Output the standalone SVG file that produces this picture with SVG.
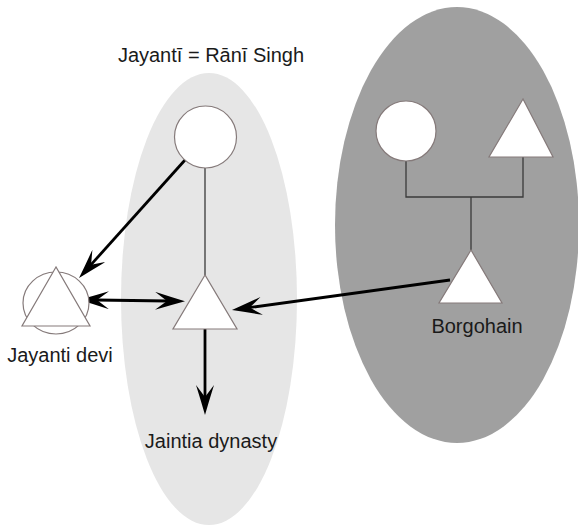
<svg xmlns="http://www.w3.org/2000/svg" width="578" height="526" viewBox="0 0 578 526">
<style>
.shape{fill:#ffffff;stroke:#857a7a;stroke-width:1.2}
.lbl{font-family:"Liberation Sans",Arial,sans-serif;font-size:20px;fill:#1a1a1a;text-anchor:middle}
.thin{stroke:#3a3a3a;stroke-width:1.3;fill:none}
.arr{stroke:#000;stroke-width:2.8;fill:none}
</style>
<defs>
<marker id="ah" viewBox="0 0 30 18" refX="13" refY="9" markerWidth="30" markerHeight="18" markerUnits="userSpaceOnUse" orient="auto-start-reverse">
<path d="M0,0 Q16,5 30,9 Q16,13 0,18 L12,9 z" fill="#000"/>
</marker>
</defs>
<rect width="578" height="526" fill="#fff"/>
<g id="group-right">
<ellipse cx="457" cy="225" rx="122" ry="218" fill="#a0a0a0"/>
</g>
<g id="group-left">
<ellipse cx="209" cy="299" rx="88" ry="226" fill="#e6e6e6"/>
</g>
<g id="connectors">
<line class="thin" x1="205" y1="168" x2="205" y2="275"/>
<polyline class="thin" points="406,161 406,197 523,197 523,157"/>
<line class="thin" x1="471" y1="197" x2="471" y2="250"/>
<line class="arr" x1="185" y1="160" x2="90.4" y2="265.4" marker-end="url(#ah)"/>
<line class="arr" x1="96" y1="300" x2="168" y2="301" marker-start="url(#ah)" marker-end="url(#ah)"/>
<line class="arr" x1="205" y1="329" x2="205" y2="398" marker-end="url(#ah)"/>
<line class="arr" x1="450" y1="280" x2="248.8" y2="307.7" marker-end="url(#ah)"/>
</g>
<g id="title">
<text class="lbl" x="211" y="62">Jayantī = Rānī Singh</text>
</g>
<g id="rani-singh">
<circle class="shape" cx="205.5" cy="137" r="31"/>
</g>
<g id="jayanti-devi">
<ellipse class="shape" cx="56" cy="303" rx="33" ry="31"/>
<polygon class="shape" points="56,267 22,326 90,326"/>
<text class="lbl" x="60" y="362">Jayanti devi</text>
</g>
<g id="jaintia-king">
<polygon class="shape" points="205,275 173,329 237,329"/>
</g>
<g id="jaintia-dynasty">
<text class="lbl" x="211" y="448">Jaintia dynasty</text>
</g>
<g id="borgohain-mother">
<circle class="shape" cx="406" cy="131" r="30"/>
</g>
<g id="borgohain-father">
<polygon class="shape" points="523,99 489,157 553,157"/>
</g>
<g id="borgohain">
<polygon class="shape" points="471,250 439,303 502,303"/>
<text class="lbl" x="477" y="333">Borgohain</text>
</g>
</svg>
